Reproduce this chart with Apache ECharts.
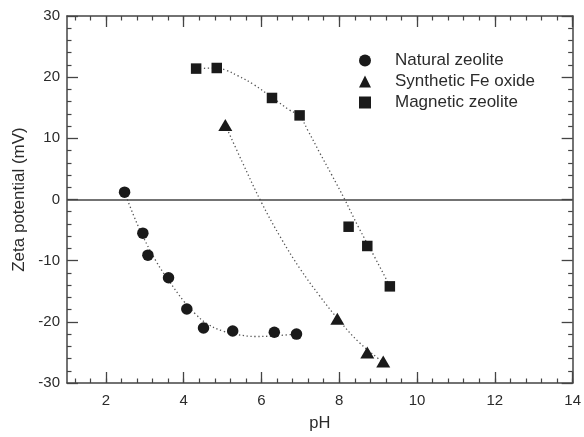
<!DOCTYPE html>
<html><head><meta charset="utf-8">
<script src="https://cdn.jsdelivr.net/npm/echarts@6/dist/echarts.min.js"></script>
<style>html,body{margin:0;padding:0;background:#fff}#c{width:584px;height:437px}</style>
</head><body><div id="c"></div>
<script>
// ---- data ----
const xTickLabels = [2, 4, 6, 8, 10, 12, 14];
const yTickLabels = [-30, -20, -10, 0, 10, 20, 30];
const seriesNames = ['Natural zeolite', 'Synthetic Fe oxide', 'Magnetic zeolite'];

const naturalZeolite = [[2.48, 1.2], [2.95, -5.5], [3.08, -9.1], [3.61, -12.8], [4.08, -17.9], [4.51, -21.0], [5.26, -21.5], [6.33, -21.7], [6.90, -22.0]];
const syntheticFeOxide = [[5.07, 12.2], [7.95, -19.5], [8.72, -25.0], [9.13, -26.5]];
const magneticZeolite = [[4.32, 21.4], [4.85, 21.5], [6.27, 16.6], [6.98, 13.75], [8.24, -4.45], [8.72, -7.6], [9.30, -14.2]];

// dotted fit curves
const naturalFit = [[2.48, 1.2], [2.7, -2.4], [2.95, -6.0], [3.3, -10.2], [3.6, -13.1], [4.0, -16.6], [4.3, -18.7], [4.6, -20.3], [5.0, -21.5], [5.4, -22.1], [5.85, -22.4], [6.3, -22.3], [6.9, -22.0]];
const feOxideFit = [[5.07, 12.2], [5.5, 6.2], [6.0, -0.5], [6.5, -6.3], [7.0, -11.4], [7.5, -15.8], [8.0, -19.8], [8.5, -23.3], [9.0, -26.0], [9.17, -26.8]];
const magneticFit = [[4.32, 21.4], [4.85, 21.5], [5.1, 21.1], [5.4, 20.2], [5.8, 18.8], [6.27, 16.7], [6.7, 14.7], [6.98, 13.6], [7.2, 11.2], [7.5, 7.6], [7.8, 4.1], [8.14, 0.0], [8.5, -4.6], [8.9, -9.3], [9.3, -14.2], [9.35, -15.0]];

// minor x ticks every 0.4 (multiples of 0.4 inside 1..14)
const xMinorTicks = [];
for (let k = 3; k * 0.4 <= 14.0001; k++) xMinorTicks.push(Math.round(k * 0.4 * 10) / 10);

const FONT = "'Liberation Sans', Arial, sans-serif";
const AX = '#444';
const TXT = '#2b2b2b';
const MK = '#1a1a1a';

function xMajor(pos, labels) {
  return {
    type: 'value', min: 1, max: 14, position: pos,
    axisLine: {show: true, onZero: false, lineStyle: {color: AX, width: 1.5}},
    axisTick: {show: true, inside: true, length: 11, customValues: xTickLabels, lineStyle: {color: AX, width: 1.3}},
    axisLabel: {show: labels, margin: 10, fontSize: 15, color: TXT, fontFamily: FONT, customValues: xTickLabels},
    splitLine: {show: false},
    name: labels ? 'pH' : '', nameLocation: 'middle', nameGap: 32,
    nameTextStyle: {fontSize: 16.5, color: TXT, fontFamily: FONT}
  };
}
function xMinor(pos) {
  return {
    type: 'value', min: 1, max: 14, position: pos,
    axisLine: {show: false, onZero: false},
    axisTick: {show: true, inside: true, length: 4.5, customValues: xMinorTicks, lineStyle: {color: AX, width: 1.2}},
    axisLabel: {show: false}, splitLine: {show: false}
  };
}
function yAx(pos, labels) {
  return {
    type: 'value', min: -30, max: 30, interval: 10, position: pos,
    axisLine: {show: true, onZero: false, lineStyle: {color: AX, width: 1.5}},
    axisTick: {show: true, inside: true, length: 11, lineStyle: {color: AX, width: 1.3}},
    minorTick: {show: true, splitNumber: 5, length: 4.5, lineStyle: {color: AX, width: 1.2}},
    axisLabel: {show: labels, margin: 7, fontSize: 15, color: TXT, fontFamily: FONT,
      formatter: v => yTickLabels.includes(v) ? String(v) : ''},
    splitLine: {show: false}, minorSplitLine: {show: false},
    name: labels ? 'Zeta potential (mV)' : '', nameLocation: 'middle', nameGap: 38,
    nameTextStyle: {fontSize: 17, color: TXT, fontFamily: FONT}
  };
}
function fitLine(name, data) {
  return {
    name: name, type: 'line', data: data, smooth: 0.4, showSymbol: false, symbol: 'none',
    xAxisIndex: 0, yAxisIndex: 0, z: 2, silent: true,
    lineStyle: {color: '#555', width: 1.3, type: [1.3, 2.6]}
  };
}

const chart = echarts.init(document.getElementById('c'), null, {renderer: 'canvas'});
chart.setOption({
  animation: false,
  backgroundColor: '#fff',
  grid: {left: 67, right: 9, top: 16, bottom: 54, containLabel: false},
  xAxis: [xMajor('bottom', true), xMinor('bottom'), xMajor('top', false), xMinor('top')],
  yAxis: [yAx('left', true), yAx('right', false)],
  legend: {
    data: seriesNames, orient: 'vertical', left: 359, top: 50, padding: 0,
    itemWidth: 12, itemHeight: 12, itemGap: 0,
    textStyle: {fontSize: 17, color: TXT, fontFamily: FONT, lineHeight: 21, padding: [0, 0, 0, 19]}
  },
  series: [
    Object.assign(fitLine('fit1', naturalFit), {
      markLine: {silent: true, symbol: 'none', label: {show: false},
        lineStyle: {color: AX, type: 'solid', width: 1.5}, data: [{yAxis: 0}]}
    }),
    fitLine('fit2', feOxideFit),
    fitLine('fit3', magneticFit),
    {name: seriesNames[0], type: 'scatter', data: naturalZeolite, symbol: 'circle', symbolSize: 11.5, z: 5,
      itemStyle: {color: MK, opacity: 1}},
    {name: seriesNames[1], type: 'scatter', data: syntheticFeOxide, symbol: 'triangle', symbolSize: [14, 12], z: 5,
      itemStyle: {color: MK, opacity: 1}},
    {name: seriesNames[2], type: 'scatter', data: magneticZeolite, symbol: 'rect', symbolSize: 10.5, z: 5,
      itemStyle: {color: MK, opacity: 1}}
  ]
});
</script></body></html>
